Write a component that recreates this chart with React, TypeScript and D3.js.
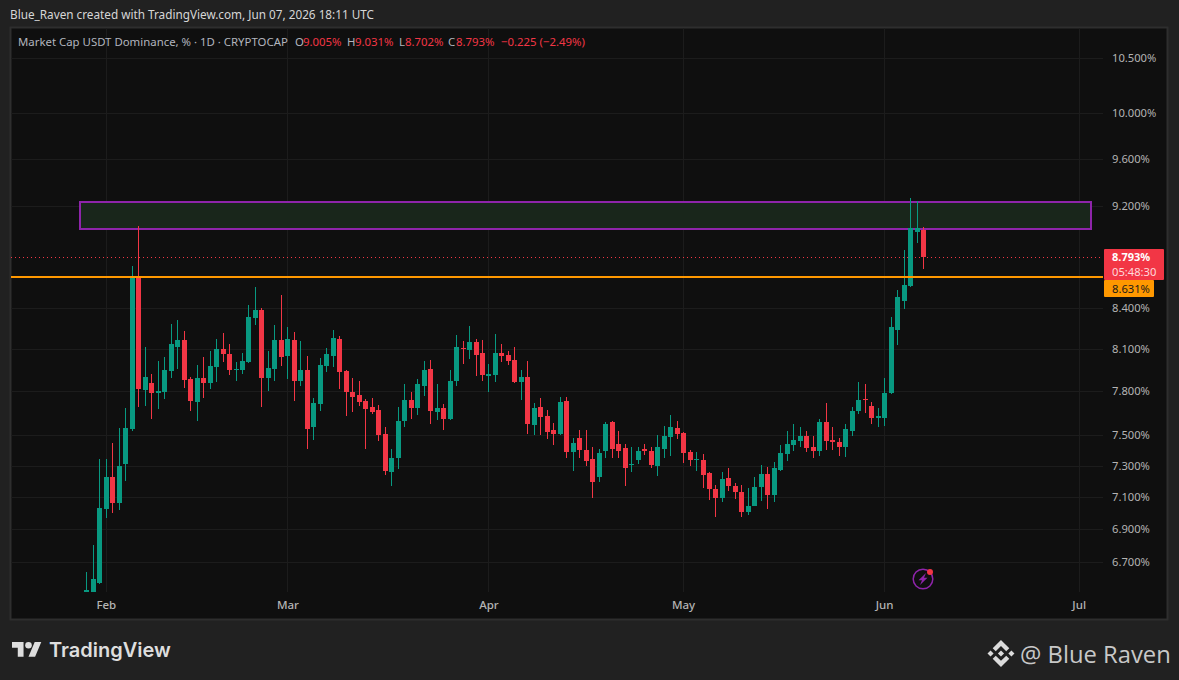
import React from "react";
import * as d3 from "d3";

const firstCandle = Date.UTC(2026, 0, 29);
const dayMs = 86400000;

const opens = [
  6.506, 6.494, 6.576,
  7.025, 7.228, 7.062, 7.312, 7.544, 8.638, 7.811, 7.859, 7.790, 7.797,
  7.944, 8.116, 8.167, 7.887, 7.727, 7.894, 7.859, 7.972, 8.101, 8.065,
  7.951, 7.951, 8.008, 8.328, 8.388, 7.894, 7.958, 8.167, 8.051, 8.167,
  7.873, 7.951, 7.558, 7.714, 7.979, 8.051, 8.174, 7.944, 7.797, 7.776,
  7.734, 7.693, 7.673, 7.510, 7.260, 7.351, 7.598, 7.741, 7.687, 7.838,
  7.958, 7.659, 7.687, 7.612, 7.873, 8.109, 8.094, 8.152, 8.072, 7.908,
  7.915, 8.072, 8.058, 8.022, 7.866, 7.901, 7.571, 7.693, 7.632, 7.537,
  7.510, 7.734, 7.391, 7.483, 7.404, 7.345, 7.228, 7.398, 7.591, 7.443,
  7.417, 7.305, 7.338, 7.411, 7.398, 7.299, 7.411, 7.490, 7.551, 7.517,
  7.391, 7.338, 7.338, 7.254, 7.151, 7.094, 7.222, 7.170, 7.132, 7.006,
  7.044, 7.164, 7.247, 7.113, 7.273, 7.378, 7.437, 7.463, 7.497, 7.424,
  7.398, 7.591, 7.470, 7.457, 7.424, 7.530, 7.666, 7.748, 7.700, 7.618,
  7.618, 7.790, 8.240, 8.455, 8.569, 8.992, 9.005,
];
const highs = [
  6.641, 6.803, 7.345,
  7.345, 7.450, 7.551, 7.687, 8.723, 9.040, 8.116, 7.922, 8.015, 8.044,
  8.284, 8.313, 8.233, 7.901, 7.986, 8.044, 8.087, 8.174, 8.218, 8.138,
  8.008, 8.072, 8.425, 8.562, 8.403, 8.087, 8.277, 8.501, 8.262, 8.225,
  8.160, 8.051, 7.755, 8.037, 8.109, 8.240, 8.196, 7.951, 7.894, 7.873,
  7.748, 7.755, 7.707, 7.558, 7.411, 7.693, 7.852, 7.797, 7.887, 8.015,
  8.022, 7.852, 7.714, 7.951, 8.203, 8.160, 8.269, 8.174, 8.167, 7.994,
  8.211, 8.138, 8.087, 8.116, 7.951, 8.015, 7.720, 7.755, 7.673, 7.585,
  7.762, 7.762, 7.483, 7.537, 7.537, 7.424, 7.411, 7.591, 7.598, 7.530,
  7.443, 7.424, 7.424, 7.443, 7.424, 7.504, 7.564, 7.639, 7.598, 7.524,
  7.404, 7.391, 7.378, 7.260, 7.177, 7.260, 7.286, 7.190, 7.177, 7.157,
  7.228, 7.305, 7.292, 7.325, 7.437, 7.530, 7.578, 7.558, 7.530, 7.497,
  7.612, 7.720, 7.558, 7.483, 7.578, 7.693, 7.866, 7.852, 7.727, 7.687,
  7.894, 8.336, 8.539, 8.849, 9.268, 9.244, 9.031,
];
const lows = [
  6.494, 6.477, 6.570,
  6.968, 7.000, 7.019, 7.203, 7.530, 7.693, 7.700, 7.612, 7.680, 7.748,
  7.894, 7.958, 7.825, 7.666, 7.598, 7.755, 7.818, 7.866, 8.008, 7.915,
  7.873, 7.922, 8.001, 8.277, 7.693, 7.804, 7.873, 7.979, 7.887, 7.734,
  7.838, 7.411, 7.470, 7.666, 7.937, 7.972, 7.818, 7.632, 7.659, 7.700,
  7.411, 7.646, 7.463, 7.241, 7.170, 7.279, 7.558, 7.612, 7.639, 7.769,
  7.578, 7.605, 7.537, 7.605, 7.838, 7.994, 8.030, 7.908, 7.873, 7.797,
  7.866, 8.008, 7.986, 7.859, 7.741, 7.510, 7.504, 7.504, 7.477, 7.437,
  7.504, 7.351, 7.267, 7.351, 7.299, 7.094, 7.196, 7.351, 7.351, 7.351,
  7.170, 7.260, 7.312, 7.371, 7.286, 7.234, 7.351, 7.364, 7.477, 7.318,
  7.299, 7.267, 7.157, 7.081, 6.975, 7.069, 7.139, 7.088, 6.975, 6.987,
  7.040, 7.075, 7.025, 7.069, 7.267, 7.331, 7.398, 7.424, 7.391, 7.351,
  7.364, 7.404, 7.404, 7.364, 7.358, 7.497, 7.646, 7.652, 7.578, 7.558,
  7.564, 7.783, 8.130, 8.395, 8.562, 8.904, 8.702,
];
const closes = [
  6.535, 6.600, 7.031,
  7.228, 7.062, 7.299, 7.551, 8.646, 7.818, 7.901, 7.790, 7.804, 7.951,
  8.138, 8.167, 7.880, 7.734, 7.894, 7.859, 7.979, 8.101, 8.065, 7.951,
  7.958, 8.015, 8.336, 8.388, 7.894, 7.965, 8.167, 8.044, 8.174, 7.873,
  7.951, 7.544, 7.720, 7.986, 8.065, 8.181, 7.937, 7.797, 7.762, 7.727,
  7.680, 7.659, 7.504, 7.267, 7.351, 7.598, 7.741, 7.687, 7.852, 7.951,
  7.666, 7.687, 7.612, 7.873, 8.116, 8.101, 8.152, 8.058, 7.915, 7.922,
  8.072, 8.051, 8.015, 7.866, 7.901, 7.578, 7.687, 7.625, 7.524, 7.510,
  7.727, 7.391, 7.450, 7.404, 7.331, 7.196, 7.384, 7.578, 7.411, 7.398,
  7.286, 7.312, 7.398, 7.398, 7.305, 7.424, 7.497, 7.558, 7.510, 7.384,
  7.338, 7.345, 7.241, 7.151, 7.094, 7.215, 7.170, 7.132, 7.006, 7.044,
  7.164, 7.247, 7.113, 7.286, 7.384, 7.443, 7.470, 7.497, 7.417, 7.398,
  7.591, 7.463, 7.457, 7.424, 7.544, 7.666, 7.741, 7.741, 7.618, 7.632,
  7.790, 8.262, 8.486, 8.577, 9.024, 9.024, 8.793,
];

const priceTicks = [10.5, 10, 9.6, 9.2, 8.4, 8.1, 7.8, 7.5, 7.3, 7.1, 6.9, 6.7];
const monthNames = ["Feb", "Mar", "Apr", "May", "Jun", "Jul"];
const monthDates = [1, 2, 3, 4, 5, 6].map((m) => new Date(Date.UTC(2026, m, 1)));
const zoneTop = 9.235;
const zoneBottom = 9.016;
const zoneStart = new Date(Date.UTC(2026, 0, 28));
const zoneEnd = new Date(Date.UTC(2026, 6, 2, 20));
const levelPrice = 8.631;
const lastPrice = 8.793;

const FONT = "'Noto Sans', sans-serif";
const GREEN = "#089981";
const RED = "#f23645";
const GRID = "#1c1c1c";
const PANE_R = 1103;
const PANE_B = 592;

export default function App() {
  const x = d3.scaleUtc().domain([monthDates[0], monthDates[5]]).range([106.3, 1079.2]);
  const y = d3.scaleLog().domain([6.7, 10.5]).range([562, 58]);
  const candles = opens.map((o, i) => ({
    date: new Date(firstCandle + i * dayMs),
    o,
    h: highs[i],
    l: lows[i],
    c: closes[i],
  }));

  return (
    <svg
      width={1179}
      height={680}
      style={{ position: "absolute", left: 0, top: 0, display: "block" }}
      fontFamily={FONT}
    >
      <defs>
        <clipPath id="pane">
          <rect x={11} y={28} width={PANE_R - 11} height={PANE_B - 28} />
        </clipPath>
      </defs>
      <rect width={1179} height={680} fill="#212121" />
      <rect x={10.5} y={27.5} width={1157} height={592} fill="#0f0f0f" stroke="#2e2e2e" strokeWidth={2} />

      <text x={10} y={19} fontSize={11.75} fill="#d6d6d6">
        Blue_Raven created with TradingView.com, Jun 07, 2026 18:11 UTC
      </text>

      {priceTicks.map((t) => (
        <line key={t} x1={11} x2={PANE_R} y1={Math.round(y(t)) + 0.5} y2={Math.round(y(t)) + 0.5} stroke={GRID} />
      ))}
      {monthDates.map((d) => (
        <line key={+d} x1={Math.floor(x(d)) + 0.5} x2={Math.floor(x(d)) + 0.5} y1={28} y2={PANE_B} stroke={GRID} />
      ))}

      <rect
        x={Math.round(x(zoneStart))}
        y={Math.round(y(zoneTop))}
        width={Math.round(x(zoneEnd)) - Math.round(x(zoneStart))}
        height={Math.round(y(zoneBottom)) - Math.round(y(zoneTop))}
        fill="#19261b"
        stroke="#8e24aa"
        strokeWidth={2}
      />

      <line
        x1={11}
        x2={PANE_R}
        y1={Math.round(y(lastPrice)) + 0.5}
        y2={Math.round(y(lastPrice)) + 0.5}
        stroke={RED}
        strokeDasharray="1 3"
      />

      <g clipPath="url(#pane)">
        {candles.map((d) => {
          const col = d.c >= d.o ? GREEN : RED;
          const cx = Math.floor(x(d.date));
          const top = Math.round(y(Math.max(d.o, d.c)));
          const bot = Math.round(y(Math.min(d.o, d.c)));
          return (
            <g key={+d.date} fill={col}>
              <rect x={cx} y={Math.round(y(d.h))} width={1} height={Math.round(y(d.l)) - Math.round(y(d.h))} />
              <rect x={cx - 2} y={top} width={5} height={Math.max(1, bot - top)} />
            </g>
          );
        })}
      </g>

      <line
        x1={11}
        x2={PANE_R}
        y1={Math.floor(y(levelPrice))}
        y2={Math.floor(y(levelPrice))}
        stroke="#ff9800"
        strokeWidth={2}
      />

      <g fontSize={11.4}>
        <text x={18} y={46} fill="#b2b5be">Market Cap USDT Dominance, % · 1D · CRYPTOCAP</text>
        <text x={295} y={46} fill="#b2b5be">O</text>
        <text x={303} y={46} fill={RED}>9.005%</text>
        <text x={347} y={46} fill="#b2b5be">H</text>
        <text x={355} y={46} fill={RED}>9.031%</text>
        <text x={399} y={46} fill="#b2b5be">L</text>
        <text x={405} y={46} fill={RED}>8.702%</text>
        <text x={448} y={46} fill="#b2b5be">C</text>
        <text x={456} y={46} fill={RED}>8.793%</text>
        <text x={501} y={46} fill={RED}>−0.225 (−2.49%)</text>
      </g>

      <g fontSize={11.2} fill="#b4b4b4">
        {priceTicks.map((t) => (
          <text key={t} x={1112} y={y(t) + 4}>{d3.format(".3f")(t)}%</text>
        ))}
      </g>
      <g fontSize={11.5} fill="#b4b4b4" fontWeight={500} textAnchor="middle">
        {monthNames.map((m, i) => (
          <text key={m} x={x(monthDates[i])} y={609}>{m}</text>
        ))}
      </g>

      <rect x={1104} y={249} width={60} height={31} fill={RED} rx={1} />
      <text x={1112} y={261} fontSize={11} fontWeight={700} fill="#ffffff">8.793%</text>
      <text x={1112} y={276} fontSize={11.2} fill="#ffd9dc">05:48:30</text>
      <rect x={1104} y={280} width={50} height={17} fill="#ff9800" rx={1} />
      <text x={1112} y={293} fontSize={11.2} fill="#1a1a1a">8.631%</text>

      <g transform="translate(923,579)">
        <circle r={9.8} fill="none" stroke="#8e24aa" strokeWidth={1.5} />
        <path d="M3,-6 L-4.5,1.2 L-1,1.2 L-3,6 L4.5,-1.2 L1,-1.2 Z" fill="#8e24aa" />
        <circle cx={7} cy={-7} r={3} fill={RED} />
      </g>

      <g transform="translate(12,638.7) scale(0.825)" fill="#dedede">
        <path d="M14 22H7V11H0V4h14v18zM28 22h-8l7.5-18h8L28 22z" />
        <circle cx={20} cy={8} r={4} />
      </g>
      <text x={49} y={657} fontSize={20} fontWeight={600} fill="#dedede" fontFamily="Inter, sans-serif">TradingView</text>

      <g transform="translate(987.5,640) scale(0.213)" fill="#dcdcdc">
        <path d="m38.73 53.2 24.59-24.58 24.6 24.6 14.3-14.31-38.9-38.91-38.9 38.9 14.31 14.3zm-38.73 10.11 14.31-14.3 14.3 14.3-14.3 14.31zm38.73 10.11 24.59 24.58 24.6-24.6 14.31 14.29-38.91 38.91-38.91-38.9v-.03l14.3-14.25zm59.2-10.1 14.3-14.31 14.31 14.3-14.31 14.31zm-20.1-.01-14.51-14.52-10.73 10.73-1.24 1.23-2.54 2.54 14.51 14.5 14.51-14.51z" />
      </g>
      <text x={1020} y={663} fontSize={23.8} fill="#c8c8c8" fontFamily="'Open Sans', sans-serif">@ Blue Raven</text>
    </svg>
  );
}
